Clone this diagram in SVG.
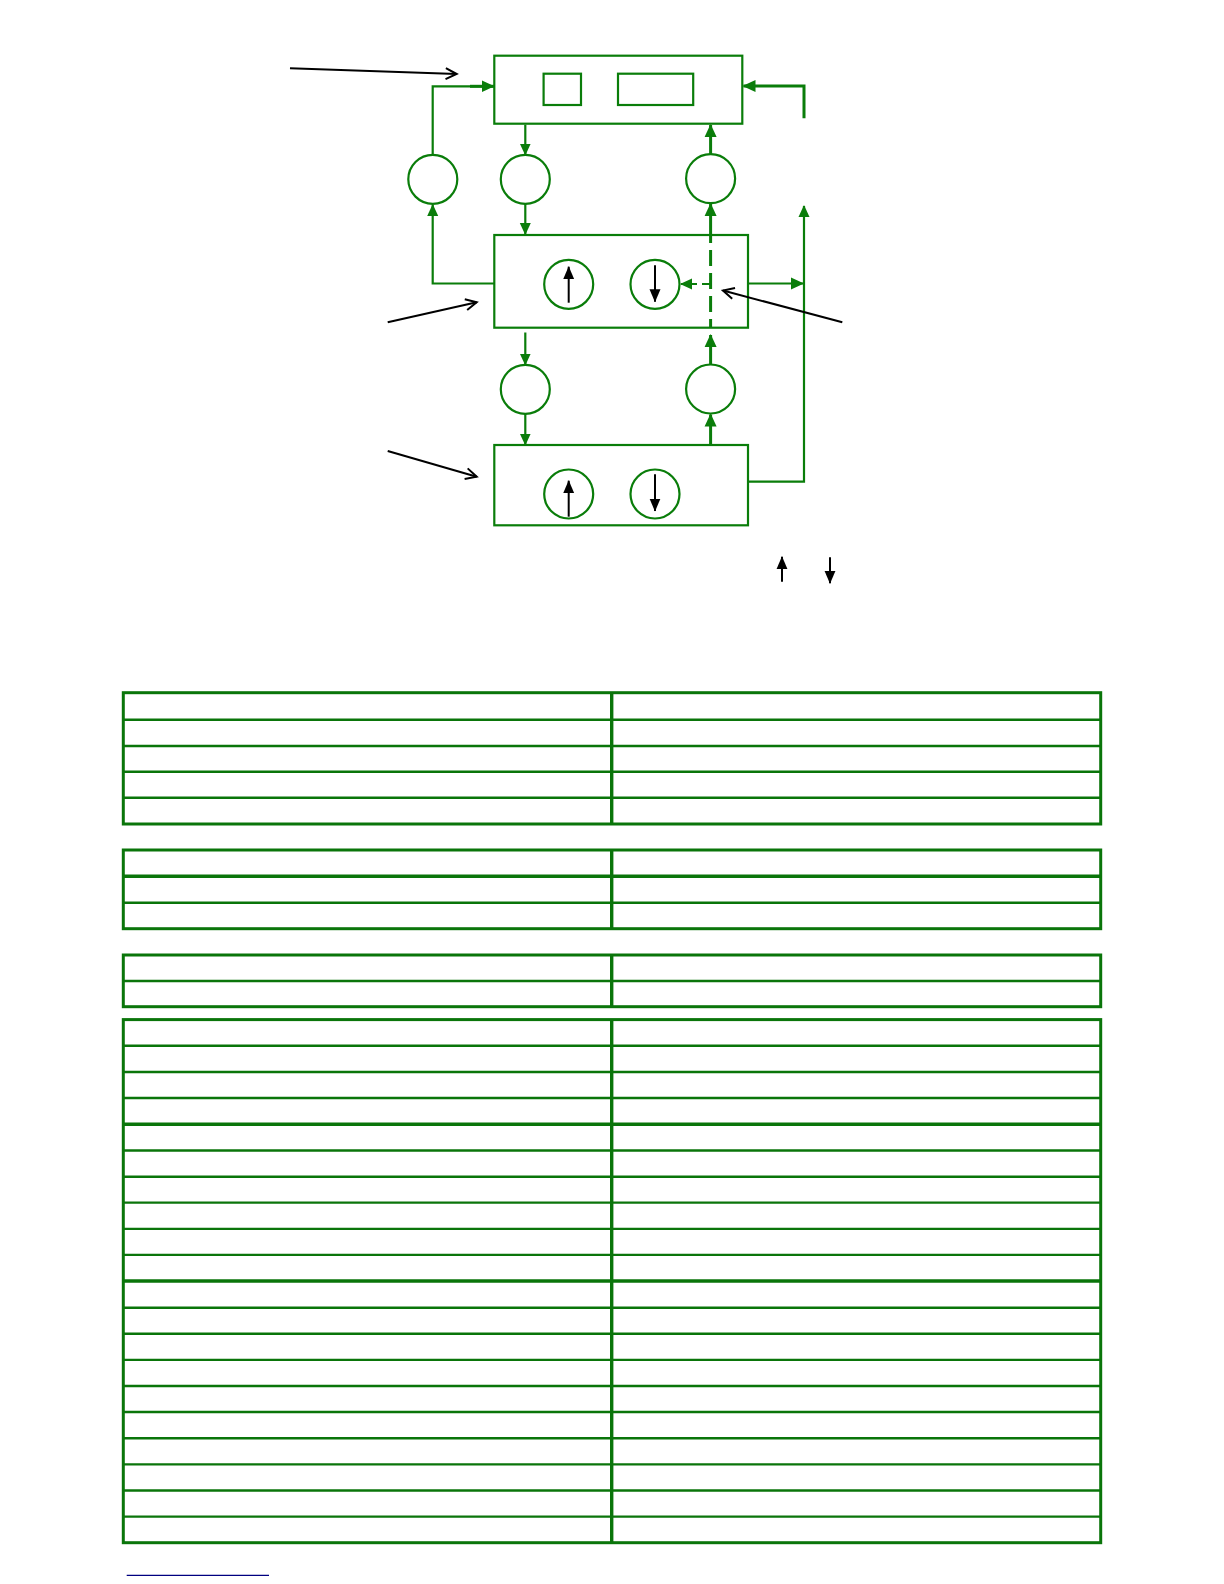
<svg xmlns="http://www.w3.org/2000/svg" width="1224" height="1584" viewBox="0 0 1224 1584">
<style>
.box{fill:none;stroke:#0a7d0a;stroke-width:2.2}
.circ{fill:none;stroke:#0a7d0a;stroke-width:2.2}
.g{fill:none;stroke:#0a7d0a;stroke-width:2.2}
.gt{fill:none;stroke:#0a7d0a;stroke-width:3}
.k{fill:none;stroke:#000;stroke-width:2}
.tb{fill:none;stroke:#0a750a;stroke-width:3}
.tl{stroke:#0a750a;stroke-width:2.4}
.tlt{stroke:#0a750a;stroke-width:3.4}
</style>
<defs>
<marker id="ag" markerUnits="userSpaceOnUse" markerWidth="12" markerHeight="12" refX="11" refY="6" orient="auto">
<path d="M0,0.5 L12,6 L0,11.5 z" fill="#0a7d0a"/>
</marker>
<marker id="agt" markerUnits="userSpaceOnUse" markerWidth="13" markerHeight="13" refX="12" refY="6.5" orient="auto">
<path d="M0,0.5 L13,6.5 L0,12.5 z" fill="#0a7d0a"/>
</marker>
<marker id="ak" markerUnits="userSpaceOnUse" markerWidth="13" markerHeight="12" refX="12.5" refY="6" orient="auto">
<path d="M0,0.5 L13,6 L0,11.5 z" fill="#000"/>
</marker>
<marker id="ao" markerUnits="userSpaceOnUse" markerWidth="14" markerHeight="14" refX="12" refY="7" orient="auto">
<path d="M1,1.5 L12,7 L1,12.5" fill="none" stroke="#000" stroke-width="2"/>
</marker>
</defs>

<g id="top-box">
<rect class="box" x="494.3" y="55.7" width="248" height="68"/>
<rect class="box" x="543.6" y="73.7" width="37.4" height="31.3"/>
<rect class="box" x="618" y="73.7" width="75.2" height="31.3"/>
</g>
<g id="middle-box">
<rect class="box" x="494.3" y="235" width="253.7" height="92.7"/>
<circle class="circ" cx="568.7" cy="284.3" r="24.5"/>
<circle class="circ" cx="655" cy="284.3" r="24.5"/>
<line class="k" x1="568.7" y1="302.7" x2="568.7" y2="266.7" marker-end="url(#ak)"/>
<line class="k" x1="655" y1="265.3" x2="655" y2="301.7" marker-end="url(#ak)"/>
</g>
<g id="bottom-box">
<rect class="box" x="494.3" y="445" width="253.7" height="80.3"/>
<circle class="circ" cx="568.7" cy="494" r="24.5"/>
<circle class="circ" cx="655" cy="494" r="24.5"/>
<line class="k" x1="568.7" y1="516.7" x2="568.7" y2="480.7" marker-end="url(#ak)"/>
<line class="k" x1="655" y1="474.3" x2="655" y2="511" marker-end="url(#ak)"/>
</g>
<g id="circle-1"><circle class="circ" cx="432.8" cy="179.3" r="24.5"/></g>
<g id="circle-2"><circle class="circ" cx="525.3" cy="179.3" r="24.5"/></g>
<g id="circle-3"><circle class="circ" cx="710.6" cy="178.6" r="24.5"/></g>
<g id="circle-4"><circle class="circ" cx="525.3" cy="389.3" r="24.5"/></g>
<g id="circle-5"><circle class="circ" cx="710.6" cy="389" r="24.5"/></g>

<g id="connectors">
<line class="g" x1="525.3" y1="124.7" x2="525.3" y2="154.5" marker-end="url(#ag)"/>
<line class="g" x1="525.3" y1="204" x2="525.3" y2="234" marker-end="url(#ag)"/>
<polyline class="g" points="494.3,283.5 432.7,283.5 432.7,205" marker-end="url(#ag)"/>
<polyline class="g" points="432.7,154.8 432.7,86.3 493.5,86.3" marker-end="url(#agt)"/>
<line class="gt" x1="494" y1="86.3" x2="470" y2="86.3"/>
<line class="gt" x1="710.6" y1="243" x2="710.6" y2="204" marker-end="url(#agt)"/>
<line class="gt" x1="710.6" y1="154" x2="710.6" y2="125" marker-end="url(#agt)"/>
<line class="gt" x1="710.6" y1="250" x2="710.6" y2="328" stroke-dasharray="16 7"/>
<line class="g" x1="710" y1="284" x2="681" y2="284" stroke-dasharray="8 5" marker-end="url(#ag)"/>
<line class="g" x1="748" y1="283.5" x2="803" y2="283.5" marker-end="url(#agt)"/>
<polyline class="g" points="748,481.7 804,481.7 804,206" marker-end="url(#ag)"/>
<polyline class="gt" points="804,118.3 804,86 743.5,86" marker-end="url(#agt)"/>
<line class="g" x1="525.3" y1="332.5" x2="525.3" y2="364.5" marker-end="url(#ag)"/>
<line class="g" x1="525.3" y1="414" x2="525.3" y2="444.5" marker-end="url(#ag)"/>
<line class="gt" x1="710.6" y1="445" x2="710.6" y2="414.5" marker-end="url(#agt)"/>
<line class="gt" x1="710.6" y1="364.5" x2="710.6" y2="335" marker-end="url(#agt)"/>
<line class="k" x1="290" y1="68.3" x2="456.7" y2="74" marker-end="url(#ao)"/>
<line class="k" x1="387.7" y1="322.3" x2="476.7" y2="302.3" marker-end="url(#ao)"/>
<line class="k" x1="387.7" y1="451" x2="476.7" y2="476.7" marker-end="url(#ao)"/>
<line class="k" x1="842.3" y1="322.3" x2="723" y2="290.5" marker-end="url(#ao)"/>
</g>

<g id="legend">
<line class="k" x1="782" y1="581.7" x2="782" y2="556.7" marker-end="url(#ak)"/>
<line class="k" x1="830" y1="557.3" x2="830" y2="583.3" marker-end="url(#ak)"/>
</g>

<g id="table-1">
<line class="tl" x1="123.3" y1="719.7" x2="1100.7" y2="719.7"/>
<line class="tl" x1="123.3" y1="746" x2="1100.7" y2="746"/>
<line class="tl" x1="123.3" y1="771.7" x2="1100.7" y2="771.7"/>
<line class="tl" x1="123.3" y1="797.7" x2="1100.7" y2="797.7"/>
<line class="tlt" x1="611.7" y1="692.7" x2="611.7" y2="824"/>
<rect class="tb" x="123.3" y="692.7" width="977.4" height="131.3"/>
</g>
<g id="table-2">
<line class="tlt" x1="123.3" y1="876.3" x2="1100.7" y2="876.3"/>
<line class="tl" x1="123.3" y1="902.7" x2="1100.7" y2="902.7"/>
<line class="tlt" x1="611.7" y1="850" x2="611.7" y2="928.7"/>
<rect class="tb" x="123.3" y="850" width="977.4" height="78.7"/>
</g>
<g id="table-3">
<line class="tl" x1="123.3" y1="981" x2="1100.7" y2="981"/>
<line class="tlt" x1="611.7" y1="955" x2="611.7" y2="1006.7"/>
<rect class="tb" x="123.3" y="955" width="977.4" height="51.7"/>
</g>
<g id="table-4">
<line class="tl" x1="123.3" y1="1045.8" x2="1100.7" y2="1045.8"/>
<line class="tl" x1="123.3" y1="1072" x2="1100.7" y2="1072"/>
<line class="tl" x1="123.3" y1="1098" x2="1100.7" y2="1098"/>
<line class="tlt" x1="123.3" y1="1124.3" x2="1100.7" y2="1124.3"/>
<line class="tl" x1="123.3" y1="1150.5" x2="1100.7" y2="1150.5"/>
<line class="tl" x1="123.3" y1="1176.7" x2="1100.7" y2="1176.7"/>
<line class="tl" x1="123.3" y1="1202.6" x2="1100.7" y2="1202.6"/>
<line class="tl" x1="123.3" y1="1228.9" x2="1100.7" y2="1228.9"/>
<line class="tl" x1="123.3" y1="1254.9" x2="1100.7" y2="1254.9"/>
<line class="tlt" x1="123.3" y1="1281" x2="1100.7" y2="1281"/>
<line class="tl" x1="123.3" y1="1307.7" x2="1100.7" y2="1307.7"/>
<line class="tl" x1="123.3" y1="1333.8" x2="1100.7" y2="1333.8"/>
<line class="tl" x1="123.3" y1="1359.9" x2="1100.7" y2="1359.9"/>
<line class="tl" x1="123.3" y1="1386" x2="1100.7" y2="1386"/>
<line class="tl" x1="123.3" y1="1412" x2="1100.7" y2="1412"/>
<line class="tl" x1="123.3" y1="1438.2" x2="1100.7" y2="1438.2"/>
<line class="tl" x1="123.3" y1="1464.4" x2="1100.7" y2="1464.4"/>
<line class="tl" x1="123.3" y1="1490.5" x2="1100.7" y2="1490.5"/>
<line class="tl" x1="123.3" y1="1516.6" x2="1100.7" y2="1516.6"/>
<line class="tlt" x1="611.7" y1="1019.6" x2="611.7" y2="1542.7"/>
<rect class="tb" x="123.3" y="1019.6" width="977.4" height="523.1"/>
</g>
<line id="footnote-rule" x1="126.7" y1="1575.3" x2="269" y2="1575.3" stroke="#000080" stroke-width="1.2"/>
</svg>
